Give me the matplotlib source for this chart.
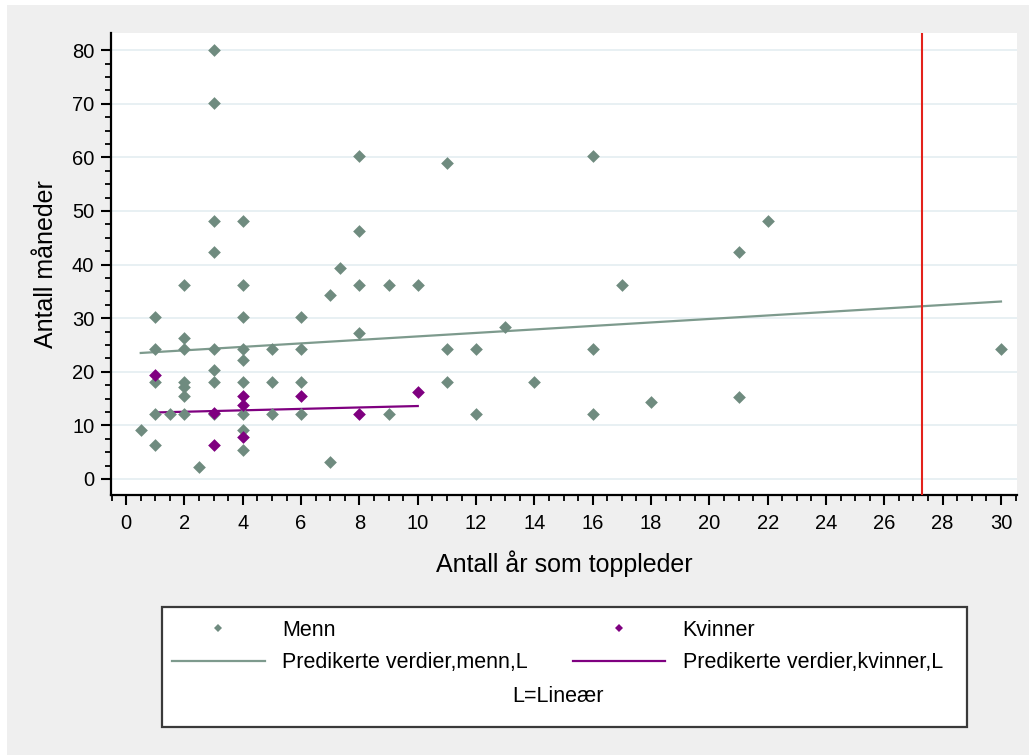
import matplotlib
matplotlib.use("Agg")
import matplotlib.pyplot as plt
from matplotlib.lines import Line2D
from matplotlib.patches import Rectangle

plt.rcParams["font.family"] = ["Liberation Sans", "DejaVu Sans"]

# years as top leader vs. months, men
menn_x = [0.5, 1, 1, 1, 1, 1, 1.5, 2, 2, 2, 2, 2, 2, 2, 2.5,
          3, 3, 3, 3, 3, 3, 3, 3,
          4, 4, 4, 4, 4, 4, 4, 4, 4,
          5, 5, 5, 6, 6, 6, 6, 7, 7, 7.35,
          8, 8, 8, 8, 9, 9, 10, 11, 11, 11, 12, 12, 13, 14,
          16, 16, 16, 17, 18, 21, 21, 22, 30]
menn_y = [9.1, 30.2, 24.3, 18.1, 12.2, 6.3, 12.2, 36.1, 26.2, 24.3, 18.1, 17.2, 15.4, 12.2, 2.3,
          80, 70.1, 48.2, 42.3, 24.3, 20.3, 18.1, 12.2,
          48.2, 36.1, 30.2, 24.3, 22.2, 18.1, 12.2, 9.1, 5.4,
          24.3, 18.1, 12.2, 30.2, 24.3, 18.1, 12.2, 34.3, 3.2, 39.3,
          60.3, 46.3, 36.1, 27.2, 36.1, 12.2, 36.1, 59.0, 24.3, 18.1, 24.3, 12.2, 28.4, 18.1,
          60.3, 24.3, 12.2, 36.1, 14.4, 42.3, 15.3, 48.2, 24.3]

# women
kvinner_x = [1, 3, 3, 4, 4, 4, 6, 8, 10]
kvinner_y = [19.3, 12.3, 6.3, 15.4, 13.7, 7.9, 15.4, 12.2, 16.3]

# linear predictions
fit_menn_x = [0.5, 30]
fit_menn_y = [23.5, 33.1]
fit_kvinner_x = [1, 10]
fit_kvinner_y = [12.4, 13.6]

ref_x = 27.3

green = "#6f8b7f"
purple = "#7f0080"
line_green = "#7d9a8d"

W, H = 1029, 755
fig = plt.figure(figsize=(W / 100, H / 100), dpi=100, facecolor="white")
fig.patches.append(Rectangle((7 / W, 0), 1, 1 - 5 / H, transform=fig.transFigure,
                             facecolor="#efefef", edgecolor="none", zorder=-10))

ax = fig.add_axes([111 / W, 1 - 495 / H, (1017 - 111) / W, (495 - 33) / H])
ax.set_facecolor("white")

ax.plot(fit_menn_x, fit_menn_y, color=line_green, lw=1.6, zorder=2)
ax.plot(fit_kvinner_x, fit_kvinner_y, color=purple, lw=1.6, zorder=2)
ax.scatter(menn_x, menn_y, marker="D", s=42, color=green, linewidths=0, zorder=3)
ax.scatter(kvinner_x, kvinner_y, marker="D", s=42, color=purple, linewidths=0, zorder=4)
ax.axvline(ref_x, color="#e3221b", lw=1.5, zorder=5)

ax.set_xlim(-0.52, 30.55)
ax.set_ylim(-3.0, 83.2)
ax.set_xticks(range(0, 31, 2))
ax.set_xticks([v / 2 for v in range(-1, 62)], minor=True)
ax.set_yticks(range(0, 81, 10))
ax.set_yticks([v * 2.5 for v in range(0, 33)], minor=True)
ax.yaxis.grid(True, which="major", color="#e4edf1", lw=1.2)
ax.set_axisbelow(True)

for side in ("top", "right"):
    ax.spines[side].set_visible(False)
for side in ("left", "bottom"):
    ax.spines[side].set_linewidth(1.6)
ax.tick_params(which="major", length=7, width=1.5, labelsize=14.5, colors="black")
ax.tick_params(which="minor", length=4, width=1.3)
ax.tick_params(axis="y", pad=5)
ax.tick_params(axis="x", pad=7)

ax.set_xlabel("Antall år som toppleder", fontsize=18, labelpad=12)
ax.set_ylabel("Antall måneder", fontsize=18, labelpad=10)

# legend box
fig.patches.append(Rectangle((162 / W, 1 - 727 / H), 805 / W, 120 / H, transform=fig.transFigure,
                             facecolor="white", edgecolor="#3a3a3a", lw=1.6, zorder=1))
handles = [
    Line2D([], [], marker="D", ls="none", ms=4.5, color=green, mew=0),
    Line2D([], [], color=line_green, lw=1.6),
    Line2D([], [], marker="D", ls="none", ms=4.5, color=purple, mew=0),
    Line2D([], [], color=purple, lw=1.6),
]
labels = ["Menn", "Predikerte verdier,menn,L", "Kvinner", "Predikerte verdier,kvinner,L"]
fig.legend(handles, labels, ncol=2, frameon=False, loc="upper left",
           bbox_to_anchor=(172 / W, 1 - 620 / H), fontsize=15.5,
           handlelength=4.3, handletextpad=0.8, columnspacing=2.1,
           labelspacing=0.53, borderpad=0, borderaxespad=0)
fig.text(558 / W, 1 - 697 / H, "L=Lineær", fontsize=15.5, ha="center", va="center")

fig.savefig("out.png", dpi=100, facecolor=fig.get_facecolor())
